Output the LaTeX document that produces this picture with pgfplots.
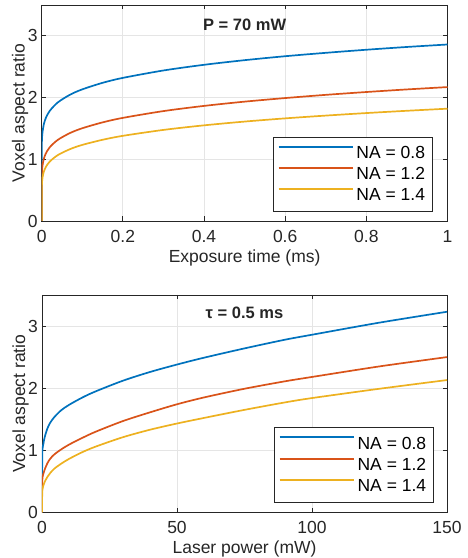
\documentclass[border=0pt]{standalone}
\usepackage{pgfplots}
\pgfplotsset{compat=1.18}
\usepackage{pgfplotstable}
\usepackage{fontspec}
\setmainfont{Liberation Sans}
\definecolor{c1}{rgb}{0,0.447,0.741}
\definecolor{c2}{rgb}{0.85,0.325,0.098}
\definecolor{c3}{rgb}{0.929,0.694,0.125}
\definecolor{axc}{rgb}{0.15,0.15,0.15}
\definecolor{gridc}{rgb}{0.9,0.9,0.9}

\pgfplotstableread{
t       a      b      c
0       0      0      0
0.0005  1.300  0.774  0.595
0.001   1.365  0.832  0.646
0.002   1.440  0.898  0.704
0.005   1.560  1.001  0.794
0.01    1.667  1.092  0.873
0.02    1.786  1.196  0.964
0.04    1.923  1.316  1.069
0.07    2.047  1.426  1.165
0.1     2.133  1.503  1.233
0.15    2.239  1.598  1.316
0.2     2.319  1.671  1.380
0.3     2.439  1.781  1.476
0.4     2.531  1.865  1.550
0.5     2.606  1.934  1.611
0.6     2.670  1.992  1.663
0.7     2.725  2.044  1.708
0.8     2.775  2.090  1.749
0.9     2.820  2.132  1.786
1.0     2.860  2.170  1.820
}\toptable

\pgfplotstableread{
p      a      b      c
0      0      0      0
0.1    0.92   0.50   0.33
0.5    1.10   0.62   0.43
1      1.21   0.69   0.49
2      1.35   0.79   0.57
3      1.44   0.86   0.63
4.5    1.53   0.93   0.70
7      1.64   1.01   0.78
10     1.73   1.09   0.86
15     1.85   1.20   0.97
20     1.95   1.30   1.06
30     2.12   1.47   1.21
40     2.26   1.61   1.33
50     2.38   1.74   1.43
60     2.49   1.85   1.52
75     2.64   1.99   1.65
90     2.78   2.11   1.77
100    2.86   2.18   1.84
125    3.055  2.35   1.99
150    3.23   2.50   2.13
}\bottable

\newcommand{\labfont}{\fontsize{17.5bp}{20bp}\selectfont}

\pgfplotsset{
  mystyle/.style={
    scale only axis,
    xmin=0, ymin=0, ymax=3.5,
    ytick={0,1,2,3},
    grid=major,
    major grid style={gridc, line width=0.8bp},
    axis line style={axc, line width=0.9bp},
    every tick/.style={axc, line width=0.9bp},
    tick align=inside,
    major tick length=4.5bp,
    tick pos=both,
    ticklabel style={font=\labfont, text=axc},
    /pgf/number format/assume math mode=true,
    xticklabel style={anchor=base, yshift=-21.6bp},
    yticklabel style={anchor=east, inner xsep=0pt, xshift=-4bp},
    label style={font=\labfont, text=axc},
    ylabel style={at={(axis description cs:-0.0419,0.5)}, anchor=base},
    xlabel style={at={(axis description cs:0.5,-0.19)}, anchor=base},
    legend cell align=left,
    legend image code/.code={\draw[#1, line width=1.9bp] (0bp,6.3bp) -- (74bp,6.3bp);},
    legend style={draw=axc, line width=0.9bp, fill=white, text=black,
      inner xsep=4.4bp, inner ysep=5.5bp, font=\labfont,
      nodes={inner xsep=3bp, inner ysep=3.75bp},
      row sep=0bp, column sep=0bp,
      /tikz/every even column/.style={column sep=0bp}},
  }
}

\begin{document}
\begin{tikzpicture}
\path[use as bounding box] (0,0) rectangle (468bp,558bp);
\begin{axis}[mystyle,
  at={(41.7bp,337bp)}, anchor=south west,
  width=405.8bp, height=216bp,
  xmax=1, xtick={0,0.2,0.4,0.6,0.8,1},
  xlabel={Exposure time (ms)}, ylabel={Voxel aspect ratio},
  legend style={at={(axis description cs:0.964,0.39)}, anchor=north east}]
\addplot[c1, line width=1.7bp, smooth, tension=0.5] table[x=t,y=a] {\toptable};
\addplot[c2, line width=1.7bp, smooth, tension=0.5] table[x=t,y=b] {\toptable};
\addplot[c3, line width=1.7bp, smooth, tension=0.5] table[x=t,y=c] {\toptable};
\legend{NA = 0.8, NA = 1.2, NA = 1.4}
\node[font=\bfseries\fontsize{16.5bp}{18bp}\selectfont, text=axc, anchor=base] at (axis description cs:0.5,0.881) {P = 70 mW};
\end{axis}
\begin{axis}[mystyle,
  at={(42bp,45.7bp)}, anchor=south west,
  width=405bp, height=217.3bp,
  xmax=150, xtick={0,50,100,150},
  xlabel={Laser power (mW)}, ylabel={Voxel aspect ratio},
  legend style={at={(axis description cs:0.968,0.392)}, anchor=north east}]
\addplot[c1, line width=1.7bp, smooth, tension=0.5] table[x=p,y=a] {\bottable};
\addplot[c2, line width=1.7bp, smooth, tension=0.5] table[x=p,y=b] {\bottable};
\addplot[c3, line width=1.7bp, smooth, tension=0.5] table[x=p,y=c] {\bottable};
\legend{NA = 0.8, NA = 1.2, NA = 1.4}
\node[font=\bfseries\fontsize{16.5bp}{18bp}\selectfont, text=axc, anchor=base] at (axis description cs:0.5,0.89) {τ = 0.5 ms};
\end{axis}
\end{tikzpicture}
\end{document}
